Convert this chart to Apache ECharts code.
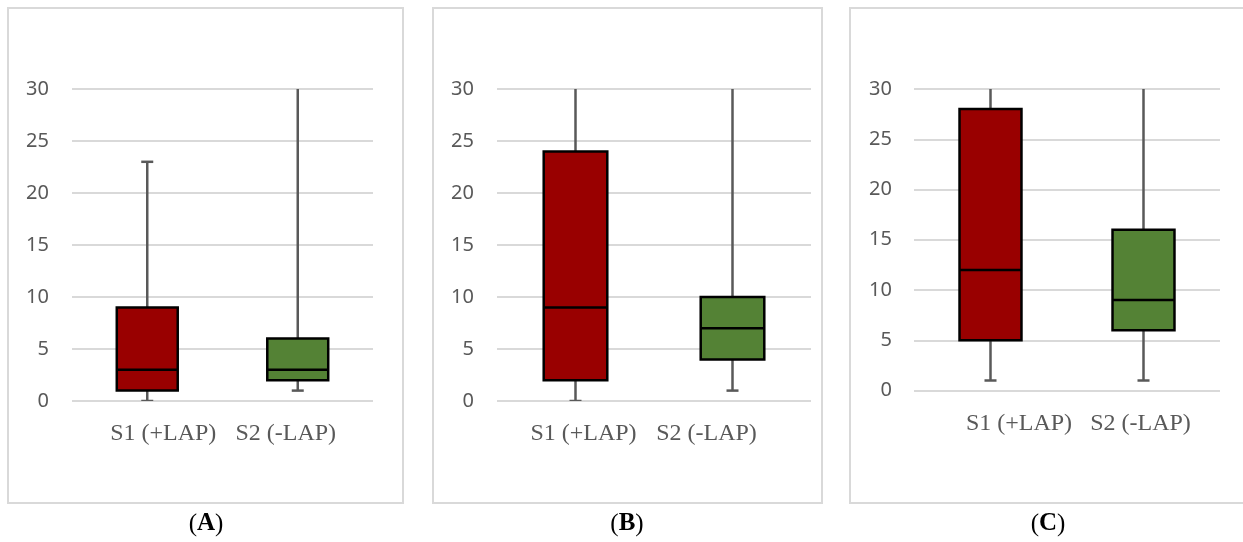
<!DOCTYPE html>
<html>
<head>
<meta charset="utf-8">
<script src="https://cdn.jsdelivr.net/npm/echarts@6/dist/echarts.min.js"></script>
<style>
html,body{margin:0;padding:0;background:#fff;}
#c{width:1243px;height:542px;}
</style>
</head>
<body>
<div id="c"></div>
<script>
// ---- data (min, Q1, median, Q3, max) ----
const categories = ['S1 (+LAP)', 'S2 (-LAP)'];
const panelNames = ['A', 'B', 'C'];
const yMin = 0, yMax = 30, yStep = 5;
// Panel A
const aS1 = [0, 1, 3, 9, 23];
const aS2 = [1, 2, 3, 6, 30];
// Panel B
const bS1 = [0, 2, 9, 24, 30];
const bS2 = [1, 4, 7, 10, 30];
// Panel C
const cS1 = [1, 5, 12, 28, 30];
const cS2 = [1, 6, 9, 16, 30];

const panels = [[aS1, aS2], [bS1, bS2], [cS1, cS2]];
const boxColors = ['#990000', '#548235'];

// layout
const grids = [
  {left: 72, right: 870, top: 89, bottom: 141},
  {left: 497, right: 432, top: 89, bottom: 141},
  {left: 914, right: 23, top: 89, bottom: 151.5}
];
const labelShift = [[16, -12], [8, -26], [28.5, -3]];
const frames = [
  {x: 8, y: 8, w: 395, h: 495},
  {x: 433, y: 8, w: 389, h: 495},
  {x: 850, y: 8, w: 400, h: 495}
];
const captionX = [206, 627, 1048];

function renderBox(params, api) {
  const xi = api.value(0);
  const lo = api.value(1), q1 = api.value(2), med = api.value(3), q3 = api.value(4), hi = api.value(5);
  const cx = api.coord([xi, med])[0];
  const Y = v => api.coord([xi, v])[1];
  const bw = api.size([1, 0])[0] * 0.405;
  const capW = 12;
  const wStyle = {stroke: '#595959', lineWidth: 2.5};
  const children = [
    {type: 'line', shape: {x1: cx, y1: Y(hi), x2: cx, y2: Y(q3)}, style: wStyle},
    {type: 'line', shape: {x1: cx, y1: Y(q1), x2: cx, y2: Y(lo)}, style: wStyle}
  ];
  if (hi < yMax) children.push({type: 'line', shape: {x1: cx - capW / 2, y1: Y(hi), x2: cx + capW / 2, y2: Y(hi)}, style: wStyle});
  if (lo >= yMin) children.push({type: 'line', shape: {x1: cx - capW / 2, y1: Y(lo), x2: cx + capW / 2, y2: Y(lo)}, style: wStyle});
  children.push({type: 'rect', shape: {x: cx - bw / 2, y: Y(q3), width: bw, height: Y(q1) - Y(q3)},
    style: {fill: boxColors[xi], stroke: '#000', lineWidth: 2.5}});
  children.push({type: 'line', shape: {x1: cx - bw / 2, y1: Y(med), x2: cx + bw / 2, y2: Y(med)},
    style: {stroke: '#000', lineWidth: 2.5}});
  return {type: 'group', children: children};
}

const option = {
  animation: false,
  backgroundColor: '#fff',
  grid: grids.map(g => Object.assign({containLabel: false}, g)),
  xAxis: grids.map((g, i) => {
    const rich = {};
    categories.forEach((c, k) => {
      const d = labelShift[i][k];
      rich['c' + k] = {
        fontFamily: 'Liberation Serif', fontSize: 24, color: '#595959', lineHeight: 24,
        padding: d >= 0 ? [0, 0, 0, 2 * d] : [0, -2 * d, 0, 0]
      };
    });
    return {
      type: 'category', gridIndex: i, data: categories,
      axisLine: {show: false}, axisTick: {show: false}, splitLine: {show: false},
      axisLabel: {
        margin: 21, interval: 0,
        formatter: (v, idx) => '{c' + idx + '|' + v + '}',
        rich: rich
      }
    };
  }),
  yAxis: grids.map((g, i) => ({
    type: 'value', gridIndex: i, min: yMin, max: yMax, interval: yStep,
    axisLine: {show: false}, axisTick: {show: false},
    splitLine: {show: true, lineStyle: {color: '#d9d9d9', width: 2}},
    axisLabel: {margin: i === 2 ? 22 : 23, color: '#595959', fontFamily: 'Noto Sans', fontSize: 20}
  })),
  series: panels.map((p, i) => ({
    type: 'custom', xAxisIndex: i, yAxisIndex: i, clip: true,
    renderItem: renderBox,
    encode: {x: 0, y: [1, 2, 3, 4, 5]},
    data: p.map((v, k) => [k].concat(v))
  })),
  graphic: frames.map(f => ({
    type: 'rect', shape: {x: f.x, y: f.y, width: f.w, height: f.h},
    style: {fill: 'none', stroke: '#d9d9d9', lineWidth: 2}, z: -1
  })).concat(panelNames.map((n, i) => ({
    type: 'text', x: captionX[i], y: 524,
    style: {
      text: '{p|(}{b|' + n + '}{p|)}',
      align: 'center', verticalAlign: 'middle',
      rich: {
        p: {fontFamily: 'Liberation Serif', fontSize: 25, color: '#000'},
        b: {fontFamily: 'Liberation Serif', fontSize: 25, fontWeight: 'bold', color: '#000'}
      }
    }
  })))
};

const chart = echarts.init(document.getElementById('c'), null, {renderer: 'canvas'});
chart.setOption(option);
</script>
</body>
</html>
